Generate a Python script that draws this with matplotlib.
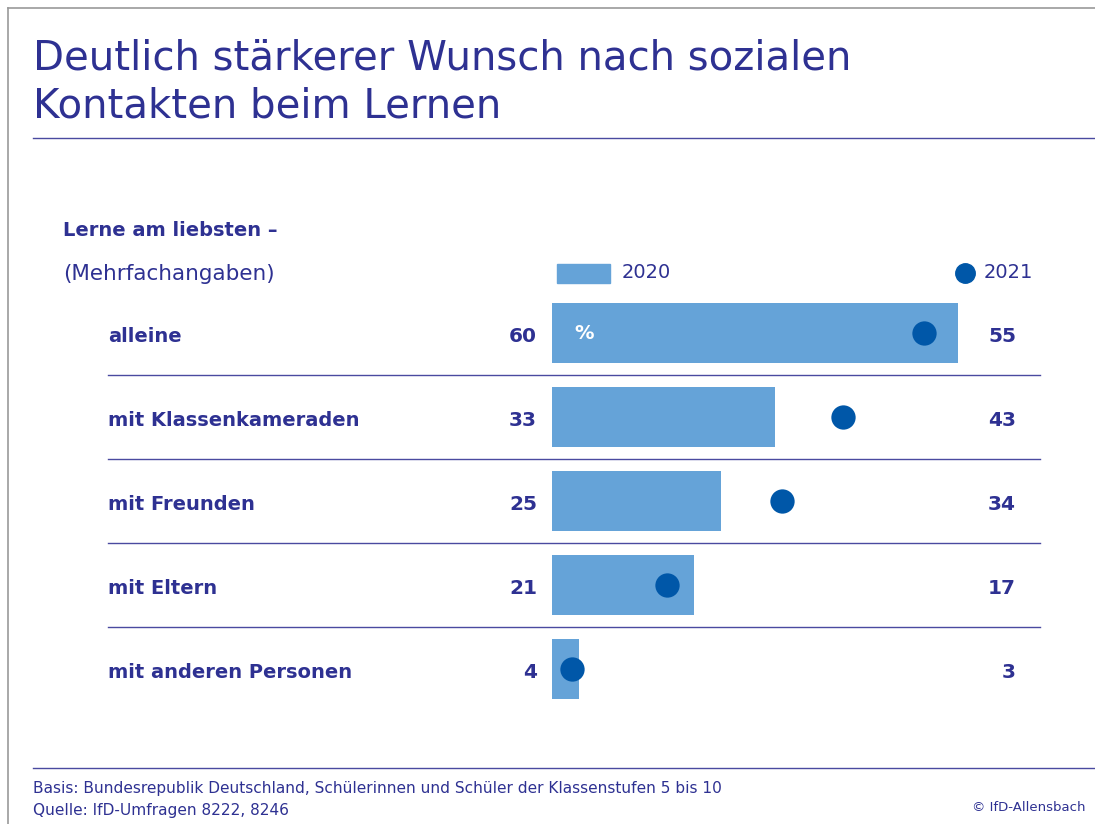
import numpy as np
import matplotlib.pyplot as plt
from matplotlib.patches import Rectangle

# data
categories = ['alleine', 'mit Klassenkameraden', 'mit Freunden', 'mit Eltern', 'mit anderen Personen']
vals_2020 = [60, 33, 25, 21, 4]
vals_2021 = [55, 43, 34, 17, 3]

txtcol = '#2e3192'
barcol = '#65a3d8'
dotcol = '#0057a8'
linecol = '#4a4aa0'

W, H = 1095, 824
fig = plt.figure(figsize=(W/100, H/100), dpi=100)
plt.rcParams['font.family'] = ['DejaVu Sans']

# one axes over the whole figure; x in percent, y in rows
pxper = 406/60.0   # pixels per percent
x0 = 552           # pixel of 0 %
y0 = 333           # pixel of first row center
rowh = 84
ax = fig.add_axes([0, 0, 1, 1])
ax.set_xlim(-x0/pxper, (W-x0)/pxper)
ax.set_ylim((H-y0)/rowh, -y0/rowh)
ax.axis('off')

def px(x):
    return x/W
def py(y):
    return 1 - y/H

# frame top and left
fig.add_artist(plt.Line2D([px(8), 1], [py(8), py(8)], color='#999999', lw=1.2))
fig.add_artist(plt.Line2D([px(8), px(8)], [py(8), 0], color='#999999', lw=1.2))

# title
fig.text(px(33), py(70), 'Deutlich stärkerer Wunsch nach sozialen', fontsize=29,
         color=txtcol, ha='left', va='baseline')
fig.text(px(33), py(117), 'Kontakten beim Lernen', fontsize=29,
         color=txtcol, ha='left', va='baseline')
fig.add_artist(plt.Line2D([px(33), 1], [py(138), py(138)], color=linecol, lw=1))

# subheading
fig.text(px(63), py(236), 'Lerne am liebsten –', fontsize=14, fontweight='bold', color=txtcol, va='baseline')
fig.text(px(63), py(280), '(Mehrfachangaben)', fontsize=15.5, color=txtcol, va='baseline')

# legend
fig.add_artist(Rectangle((px(557), py(283)), px(53), 19/H, color=barcol, transform=fig.transFigure))
fig.text(px(622), py(273), '2020', fontsize=14, color=txtcol, va='center')
fig.add_artist(plt.Line2D([px(965)], [py(273)], marker='o', ms=14, color=dotcol, lw=0))
fig.text(px(984), py(273), '2021', fontsize=14, color=txtcol, va='center')

y = np.arange(len(categories))
ax.barh(y, vals_2020, height=60/rowh, color=barcol, left=0)
ax.scatter(vals_2021, y, s=17.5**2, color=dotcol, zorder=3, linewidths=0)

lx = (108-x0)/pxper
rx = (1040-x0)/pxper
dy = 3/rowh
for i, cat in enumerate(categories):
    ax.text(lx, i+dy, cat, fontsize=14, fontweight='bold', color=txtcol, ha='left', va='center')
    ax.text((537-x0)/pxper, i+dy, str(vals_2020[i]), fontsize=14.5, fontweight='bold', color=txtcol,
            ha='right', va='center')
    ax.text((1016-x0)/pxper, i+dy, str(vals_2021[i]), fontsize=14.5, fontweight='bold', color=txtcol,
            ha='right', va='center')
    if i < len(categories)-1:
        ax.plot([lx, rx], [i+0.5, i+0.5], color=linecol, lw=1)
ax.text((574-x0)/pxper, 0, '%', fontsize=14, fontweight='bold', color='white', ha='left', va='center')

# footer
fig.add_artist(plt.Line2D([px(33), 1], [py(768), py(768)], color=linecol, lw=1))
fig.text(px(33), py(793), 'Basis: Bundesrepublik Deutschland, Schülerinnen und Schüler der Klassenstufen 5 bis 10',
         fontsize=11.1, color=txtcol, va='baseline')
fig.text(px(33), py(815), 'Quelle: IfD-Umfragen 8222, 8246', fontsize=11.1, color=txtcol, va='baseline')
fig.text(px(1085), py(811), '© IfD-Allensbach', fontsize=9.5, color=txtcol, ha='right', va='baseline')

fig.savefig('out.png', dpi=100)
